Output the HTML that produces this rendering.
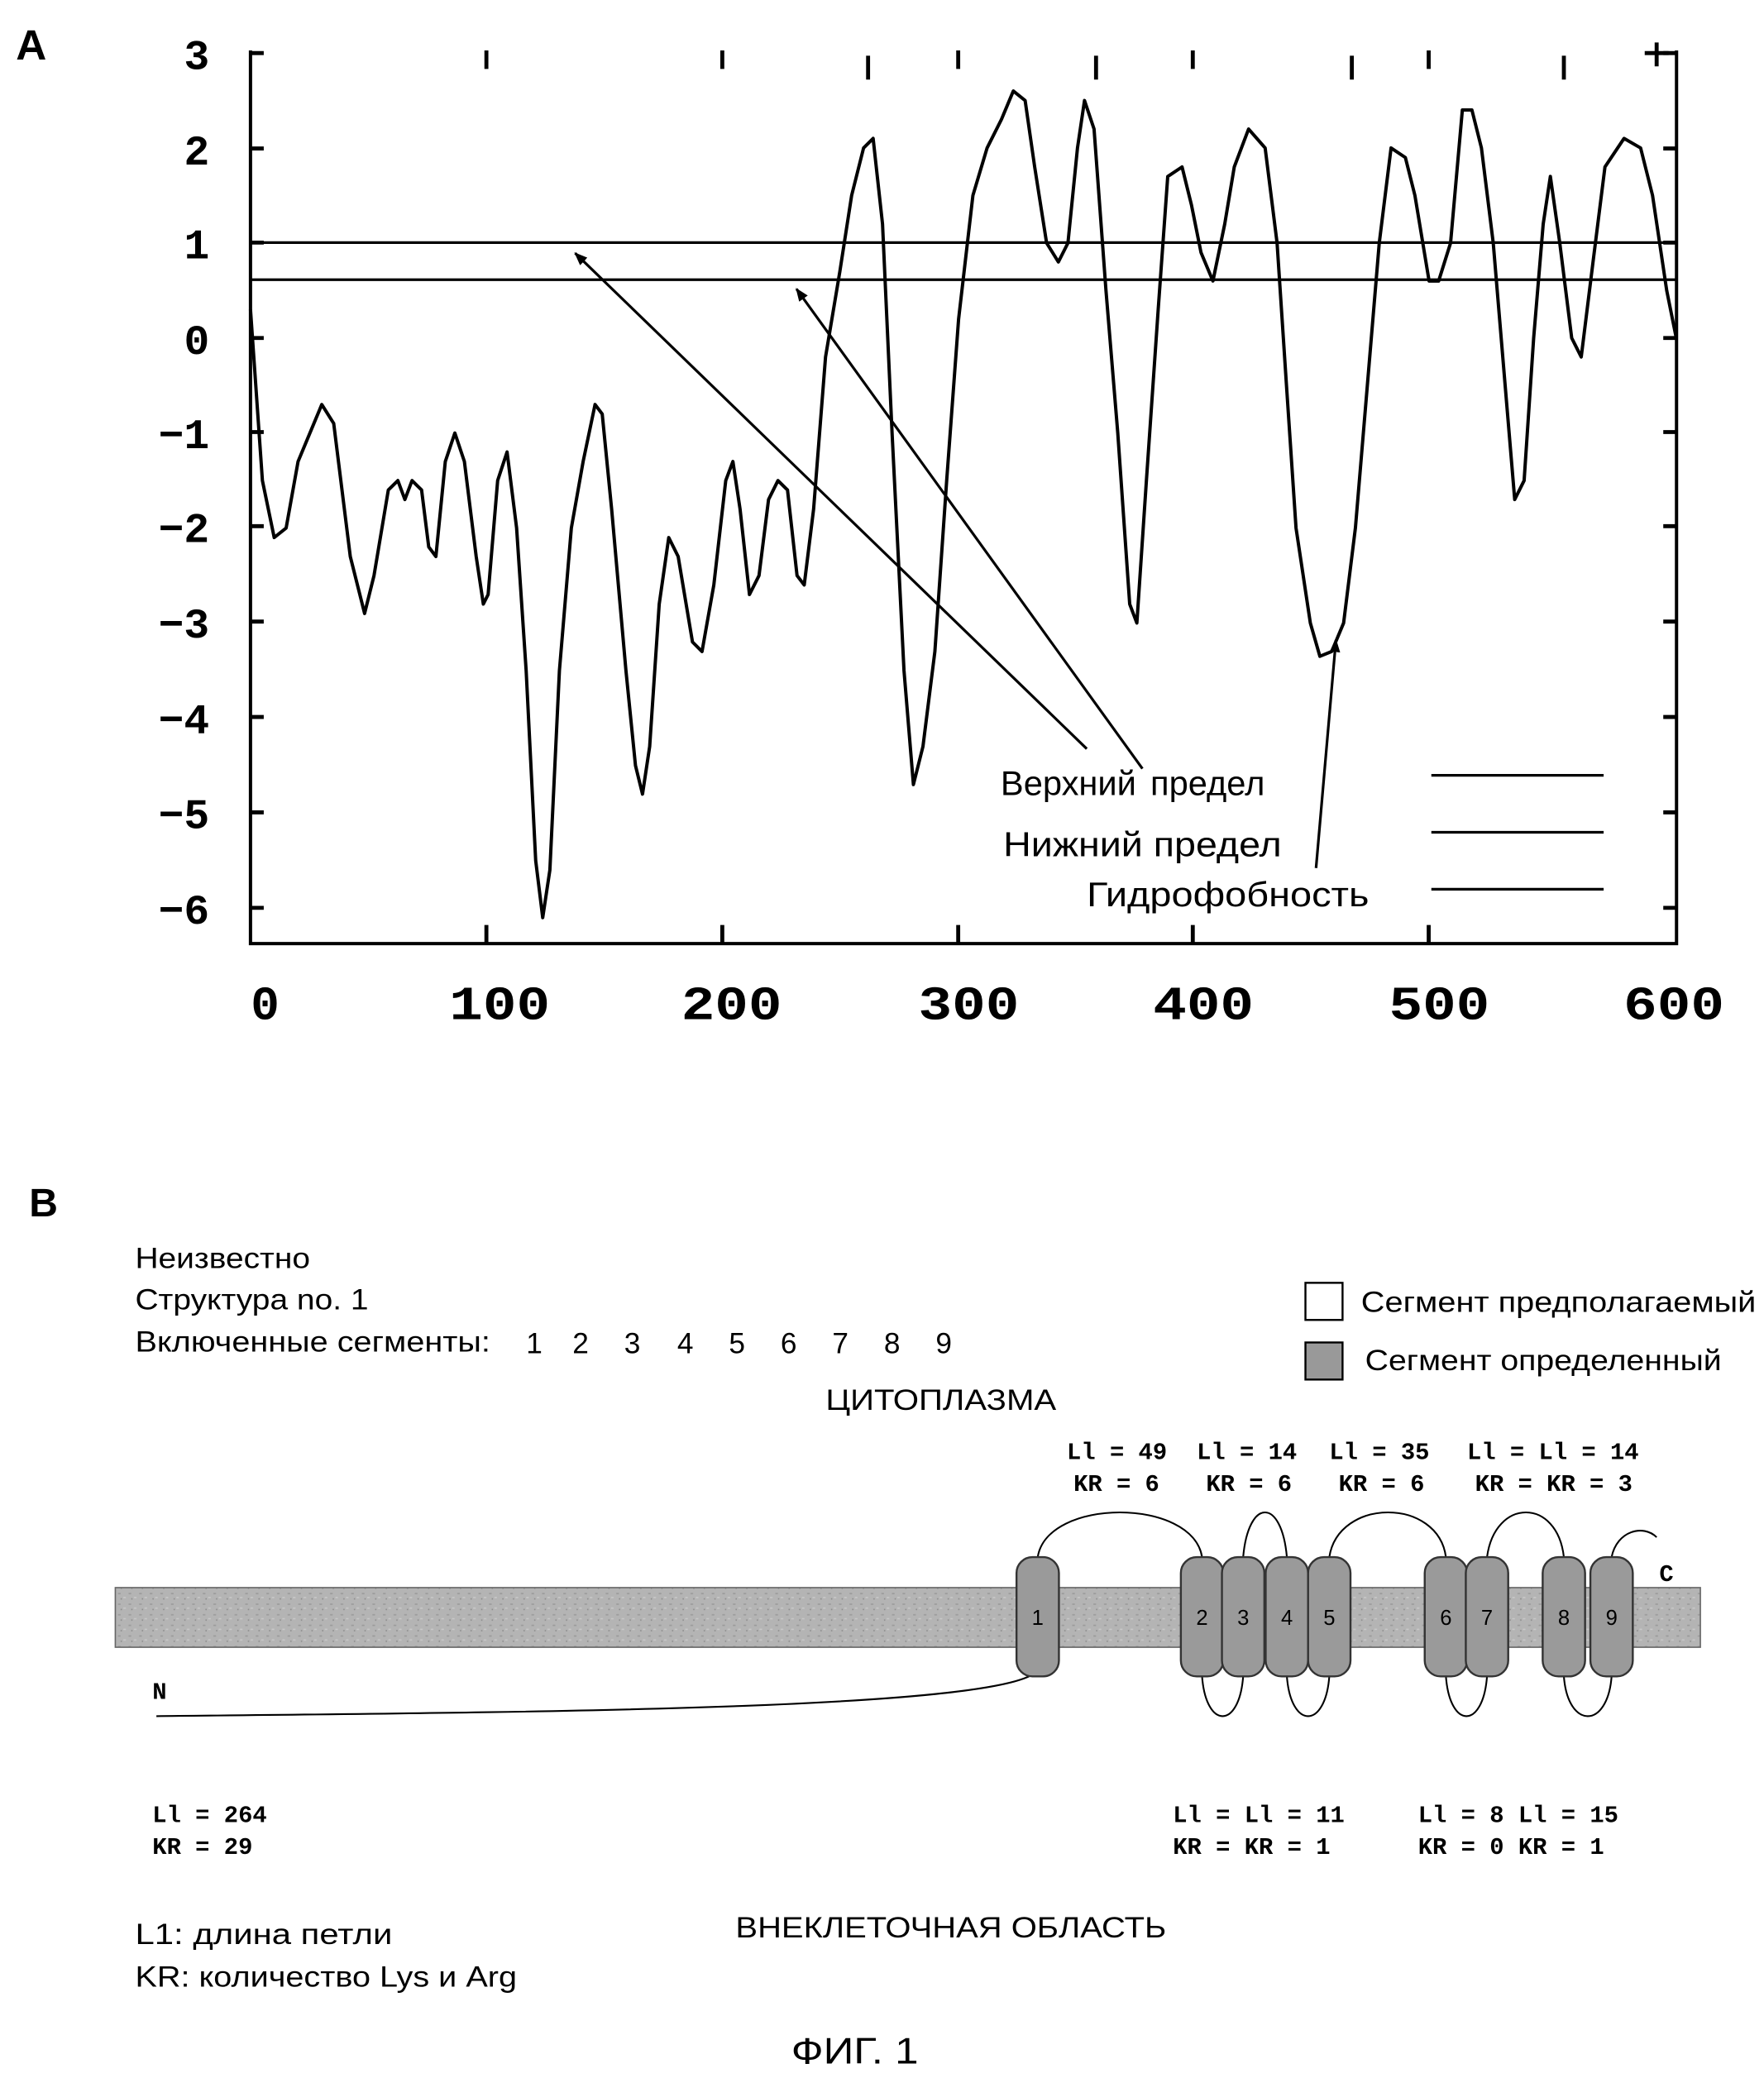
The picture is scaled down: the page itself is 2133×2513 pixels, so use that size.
<!DOCTYPE html>
<html><head><meta charset="utf-8"><style>
html,body{margin:0;padding:0;background:#fff;}
svg{display:block;}
.mono{font-family:"Liberation Mono",monospace;}
.sans{font-family:"Liberation Sans",sans-serif;}
</style></head><body>
<svg width="2133" height="2513" viewBox="0 0 1331 1568" xmlns="http://www.w3.org/2000/svg">
<defs>
<pattern id="tex" width="8" height="8" patternUnits="userSpaceOnUse">
<rect width="8" height="8" fill="#b4b4b4"/>
<rect x="1" y="2" width="2" height="1" fill="#9a9a9a"/>
<rect x="5" y="5" width="2" height="1" fill="#c8c8c8"/>
<rect x="3" y="6" width="1" height="1" fill="#8c8c8c"/>
</pattern>
<marker id="ah" markerWidth="10" markerHeight="8" refX="9" refY="4" orient="auto" markerUnits="userSpaceOnUse">
<path d="M0,0 L10,4 L0,8 z" fill="#000"/></marker>
</defs>
<text x="12" y="45" class="sans" font-size="32" font-weight="bold">A</text>
<g stroke="#000" stroke-width="2.5" fill="none">
<path d="M189,38 V712 H1265 V38"/>
</g>
<g stroke="#000" stroke-width="3">
<path d="M189,40h10M189,112h10M189,183h10M189,255h10M189,326h10M189,397h10M189,469h10M189,541h10M189,613h10M189,685h10"/>
<path d="M1265,40h-10M1265,112h-10M1265,183h-10M1265,255h-10M1265,326h-10M1265,397h-10M1265,469h-10M1265,541h-10M1265,613h-10M1265,685h-10"/>
<path d="M367,712v-14M545,712v-14M723,712v-14M900,712v-14M1078,712v-14"/>
<path d="M367,38v14M545,38v14M723,38v14M900,38v14M1078,38v14"/>
<path d="M655,42v18M827,42v18M1020,42v18M1180,42v18M1250,32v18M1241,40h18"/>
</g>
<g class="mono" font-size="32" text-anchor="end" font-weight="bold">
<text x="158" y="52">3</text><text x="158" y="124">2</text><text x="158" y="195">1</text><text x="158" y="267">0</text>
<text x="158" y="338">−1</text><text x="158" y="409">−2</text><text x="158" y="481">−3</text><text x="158" y="553">−4</text>
<text x="158" y="625">−5</text><text x="158" y="697">−6</text>
</g>
<g class="mono" font-size="36" text-anchor="middle" font-weight="bold">
<text x="200" y="769">0</text>
<text x="377" y="769" textLength="76" lengthAdjust="spacingAndGlyphs">100</text>
<text x="552" y="769" textLength="76" lengthAdjust="spacingAndGlyphs">200</text>
<text x="731" y="769" textLength="76" lengthAdjust="spacingAndGlyphs">300</text>
<text x="908" y="769" textLength="76" lengthAdjust="spacingAndGlyphs">400</text>
<text x="1086" y="769" textLength="76" lengthAdjust="spacingAndGlyphs">500</text>
<text x="1263" y="769" textLength="76" lengthAdjust="spacingAndGlyphs">600</text>
</g>
<g stroke="#000" stroke-width="2">
<line x1="189" y1="183" x2="1265" y2="183"/><line x1="189" y1="211" x2="1265" y2="211"/>
<line x1="1080" y1="585" x2="1210" y2="585"/><line x1="1080" y1="628" x2="1210" y2="628"/><line x1="1080" y1="671" x2="1210" y2="671"/>
<line x1="820" y1="565" x2="434" y2="191" marker-end="url(#ah)"/>
<line x1="862" y1="580" x2="601" y2="218" marker-end="url(#ah)"/>
<line x1="993" y1="655" x2="1008" y2="483" marker-end="url(#ah)"/>
</g>
<polyline id="curve" fill="none" stroke="#000" stroke-width="2.5" stroke-linejoin="round" points=""/>
<g class="sans" font-size="26">
<text x="755" y="600">Верхний</text><text x="868" y="600">предел</text>
<text x="757" y="646" textLength="210" lengthAdjust="spacingAndGlyphs">Нижний предел</text>
<text x="820" y="684" textLength="213" lengthAdjust="spacingAndGlyphs">Гидрофобность</text>
</g>
<text x="22" y="918" class="sans" font-size="30" font-weight="bold">B</text>
<g class="sans" font-size="22">
<text x="102" y="957" textLength="132" lengthAdjust="spacingAndGlyphs">Неизвестно</text>
<text x="102" y="988" textLength="176" lengthAdjust="spacingAndGlyphs">Структура no. 1</text>
<text x="102" y="1020" textLength="268" lengthAdjust="spacingAndGlyphs">Включенные сегменты:</text>
<text x="397" y="1021">1</text><text x="432" y="1021">2</text><text x="471" y="1021">3</text><text x="511" y="1021">4</text><text x="550" y="1021">5</text><text x="589" y="1021">6</text><text x="628" y="1021">7</text><text x="667" y="1021">8</text><text x="706" y="1021">9</text>
<text x="1027" y="990" textLength="298" lengthAdjust="spacingAndGlyphs">Сегмент предполагаемый</text>
<text x="1030" y="1034" textLength="269" lengthAdjust="spacingAndGlyphs">Сегмент определенный</text>
<text x="623" y="1064" textLength="174" lengthAdjust="spacingAndGlyphs">ЦИТОПЛАЗМА</text>
<text x="555" y="1462" textLength="325" lengthAdjust="spacingAndGlyphs">ВНЕКЛЕТОЧНАЯ ОБЛАСТЬ</text>
<text x="102" y="1467" textLength="194" lengthAdjust="spacingAndGlyphs">L1: длина петли</text>
<text x="102" y="1499" textLength="288" lengthAdjust="spacingAndGlyphs">KR: количество Lys и Arg</text>
<text x="597" y="1557" font-size="28" textLength="96" lengthAdjust="spacingAndGlyphs">ФИГ. 1</text>
</g>
<rect x="985" y="968" width="28" height="28" fill="#fff" stroke="#000" stroke-width="1.5"/>
<rect x="985" y="1013" width="28" height="28" fill="#999" stroke="#000" stroke-width="1.5"/>
<rect x="87" y="1198" width="1196" height="45" fill="url(#tex)" stroke="#666" stroke-width="1"/>
<g fill="none" stroke="#000" stroke-width="1.3">
<path d="M118,1295 C400,1292 740,1290 780,1263"/>
<path d="M783,1175 C790,1130 900,1130 907,1175"/>
<path d="M938,1175 C942,1130 967,1130 971,1175"/>
<path d="M1003,1175 C1010,1130 1085,1130 1091,1175"/>
<path d="M1122,1175 C1128,1130 1175,1130 1180,1175"/>
<path d="M1216,1175 C1220,1155 1240,1150 1250,1160"/>
<path d="M907,1265 C910,1305 935,1305 938,1265"/>
<path d="M971,1265 C974,1305 1000,1305 1003,1265"/>
<path d="M1091,1265 C1094,1305 1119,1305 1122,1265"/>
<path d="M1180,1265 C1183,1305 1213,1305 1216,1265"/>
</g>
<g stroke="#333" stroke-width="1.5" fill="#9a9a9a">
<rect x="767" y="1175" width="32" height="90" rx="12"/>
<rect x="891" y="1175" width="32" height="90" rx="12"/>
<rect x="922" y="1175" width="32" height="90" rx="12"/>
<rect x="955" y="1175" width="32" height="90" rx="12"/>
<rect x="987" y="1175" width="32" height="90" rx="12"/>
<rect x="1075" y="1175" width="32" height="90" rx="12"/>
<rect x="1106" y="1175" width="32" height="90" rx="12"/>
<rect x="1164" y="1175" width="32" height="90" rx="12"/>
<rect x="1200" y="1175" width="32" height="90" rx="12"/>
</g>
<g class="sans" font-size="16" text-anchor="middle">
<text x="783" y="1226">1</text><text x="907" y="1226">2</text><text x="938" y="1226">3</text><text x="971" y="1226">4</text><text x="1003" y="1226">5</text><text x="1091" y="1226">6</text><text x="1122" y="1226">7</text><text x="1180" y="1226">8</text><text x="1216" y="1226">9</text>
</g>
<g class="mono" font-size="18" font-weight="bold">
<text x="1252" y="1193">C</text><text x="115" y="1282">N</text>
<text x="805" y="1101">Ll = 49</text><text x="810" y="1125">KR = 6</text>
<text x="903" y="1101">Ll = 14</text><text x="910" y="1125">KR = 6</text>
<text x="1003" y="1101">Ll = 35</text><text x="1010" y="1125">KR = 6</text>
<text x="1107" y="1101">Ll = Ll = 14</text><text x="1113" y="1125">KR = KR = 3</text>
<text x="115" y="1375">Ll = 264</text><text x="115" y="1399">KR = 29</text>
<text x="885" y="1375">Ll = Ll = 11</text><text x="885" y="1399">KR = KR = 1</text>
<text x="1070" y="1375">Ll = 8 Ll = 15</text><text x="1070" y="1399">KR = 0 KR = 1</text>
</g>
<script>
var d=[[0,0.3],[5,-1.5],[10,-2.1],[15,-2.0],[20,-1.3],[30,-0.7],[35,-0.9],[42,-2.3],[48,-2.9],[52,-2.5],[58,-1.6],[62,-1.5],[65,-1.7],[68,-1.5],[72,-1.6],[75,-2.2],[78,-2.3],[82,-1.3],[86,-1.0],[90,-1.3],[95,-2.3],[98,-2.8],[100,-2.7],[104,-1.5],[108,-1.2],[112,-2.0],[116,-3.5],[120,-5.5],[123,-6.1],[126,-5.6],[130,-3.5],[135,-2.0],[140,-1.3],[145,-0.7],[148,-0.8],[152,-1.8],[158,-3.5],[162,-4.5],[165,-4.8],[168,-4.3],[172,-2.8],[176,-2.1],[180,-2.3],[186,-3.2],[190,-3.3],[195,-2.6],[200,-1.5],[203,-1.3],[206,-1.8],[210,-2.7],[214,-2.5],[218,-1.7],[222,-1.5],[226,-1.6],[230,-2.5],[233,-2.6],[237,-1.8],[242,-0.2],[248,0.7],[253,1.5],[258,2.0],[262,2.1],[266,1.2],[270,-1.0],[275,-3.5],[279,-4.7],[283,-4.3],[288,-3.3],[293,-1.5],[298,0.2],[304,1.5],[310,2.0],[316,2.3],[321,2.6],[326,2.5],[330,1.8],[335,1.0],[340,0.8],[344,1.0],[348,2.0],[351,2.5],[355,2.2],[360,0.5],[365,-1.0],[370,-2.8],[373,-3.0],[377,-1.5],[382,0.3],[386,1.7],[392,1.8],[396,1.4],[400,0.9],[405,0.6],[410,1.2],[414,1.8],[420,2.2],[427,2.0],[432,1.0],[436,-0.5],[440,-2.0],[446,-3.0],[450,-3.35],[455,-3.3],[460,-3.0],[465,-2.0],[470,-0.5],[475,1.0],[480,2.0],[486,1.9],[490,1.5],[496,0.6],[500,0.6],[505,1.0],[510,2.4],[514,2.4],[518,2.0],[523,1.0],[528,-0.5],[532,-1.7],[536,-1.5],[540,0.0],[544,1.2],[547,1.7],[551,1.0],[556,0.0],[560,-0.2],[565,0.8],[570,1.8],[578,2.1],[585,2.0],[590,1.5],[596,0.5],[600,0.0]];
document.getElementById('curve').setAttribute('points',d.map(function(p){return (189+p[0]*1.793).toFixed(1)+','+(255-p[1]*71.7).toFixed(1);}).join(' '));
</script>
</svg>
</body></html>
